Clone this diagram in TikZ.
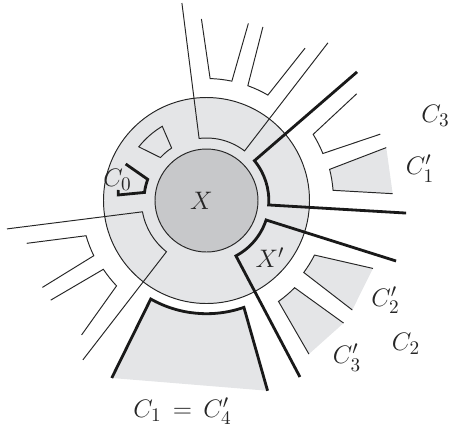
\documentclass[tikz,border=0pt]{standalone}
\usepackage{amsmath}
\definecolor{ringgray}{HTML}{E4E5E7}
\definecolor{diskgray}{HTML}{C7C8CA}
\tikzset{
  thinline/.style={line width=0.55pt,black!85},
  thickline/.style={line width=1.6pt,black!90},
  lbl/.style={font=\fontsize{15.7}{18}\selectfont,text=black!85,inner sep=0pt}
}

\begin{document}
\begin{tikzpicture}[scale=0.02]
  \useasboundingbox (-206.5,-227.5) rectangle (243.5,200.5);
  \draw[thinline,fill=ringgray] (0,0) circle(103);
  \draw[thinline,fill=diskgray] (0,0) circle(51.5);
  % shaded outer pieces
  \foreach \aa/\ra/\ab/\ac/\rb/\ad/\rc in {16.4/187.4/14.2/4.6/127/2.1/186.3,
      -22.2/179.8/-26.8/-36.5/121/-36.9/182.3,
      -41.8/183.9/-44.7/-54.5/124/-56.3/184.6}
  {
     \fill[ringgray] (\aa:\ra)--(\ab:\rb) arc[start angle=\ab,end angle=\ac,radius=\rb]--(\ad:\rc)--cycle;
     \draw[thinline] (\aa:\ra)--(\ab:\rb) arc[start angle=\ab,end angle=\ac,radius=\rb]--(\ad:\rc);
  }
  \fill[ringgray] (-72.2:199.8)--(-70.7:113.2) arc[start angle=-70.7,end angle=-119.5,radius=113.2]--(-118.1:201.2)--cycle;
  % plain pieces
  \foreach \aa/\ra/\ab/\ac/\rb/\ad/\rc in {91.6/181.6/88.3/78/122/76.7/182,
      72/182.5/70.2/59.8/122/57.1/181.5,
      35.4/184.3/31.8/22/125.5/20.9/186,
      193.4/184.8/196.3/206.1/125.5/207.9/185.7,
      212.6/184.9/213.7/223.5/124/227.1/183.5,
      97.1/199/96.8/52.5/62.5/52.4/199,
      188.1/201.5/190/232/65/232.2/201.7}
     \draw[thinline] (\aa:\ra)--(\ab:\rb) arc[start angle=\ab,end angle=\ac,radius=\rb]--(\ad:\rc);
  \draw[thinline] (141.6:86.4) arc[start angle=141.6,end angle=120.8,radius=86.4]--(123.6:63) arc[start angle=123.6,end angle=137,radius=63]--cycle;
  % heavy lines
  \foreach \aa/\ra/\ab/\ac/\rb/\ad/\rc in {40.5/198/39.7/-4.1/62.3/-3.6/200,
      -17.7/199/-18.1/-62/62.7/-62.1/199.7,
      -72.2/199.8/-70.7/-119.5/113.2/-118.1/201.2}
     \draw[thickline] (\aa:\ra)--(\ab:\rb) arc[start angle=\ab,end angle=\ac,radius=\rb]--(\ad:\rc);
  \draw[thickline] (155.7:88.7)--(160.2:62.5) arc[start angle=160.2,end angle=172.3,radius=64]--(176.4:88.4)--(173.2:88.8);
  \node[lbl] (lblX) at (-5,0) {$X$};
  \node[lbl] (lblXp) at (63.5,-57.5) {$X'$};
  \node[lbl] (lblCzero) at (-89,21) {$C_0$};
  \node[lbl] (lblCthree) at (229,85) {$C_3$};
  \node[lbl] (lblConep) at (213.5,32) {$C_1'$};
  \node[lbl] (lblCtwop) at (179,-99.5) {$C_2'$};
  \node[lbl] (lblCtwo) at (199.5,-143) {$C_2$};
  \node[lbl] (lblCthreep) at (140.5,-157) {$C_3'$};
  \node[lbl] (lblCone) at (-24,-210.5) {$C_1\,=\,C_4'$};
\end{tikzpicture}
\end{document}
